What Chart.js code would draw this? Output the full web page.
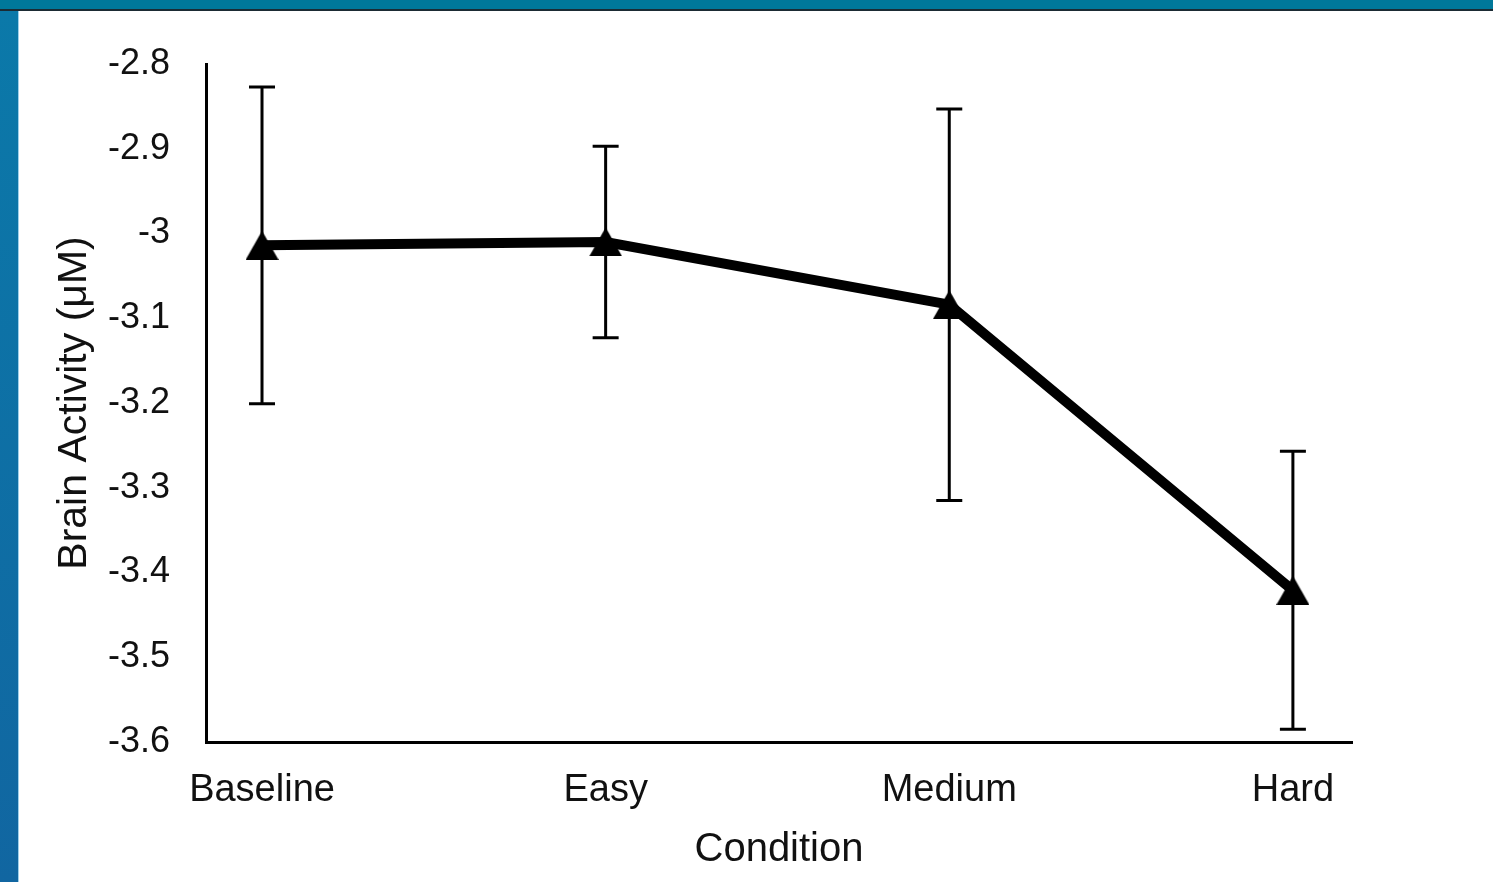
<!DOCTYPE html>
<html>
<head>
<meta charset="utf-8">
<script src="https://cdn.jsdelivr.net/npm/chart.js@4"></script>
<style>
  html, body { margin: 0; padding: 0; width: 1493px; height: 882px; overflow: hidden; background: #fff; }
  #topband { position: absolute; left: 0; top: 0; width: 1493px; height: 9px; background: #00789a; border-bottom: 2px solid #1b2b34; }
  #leftband { position: absolute; left: 0; top: 11px; width: 18px; height: 871px; background: linear-gradient(#0b79a9, #1166a1); border-right: 1px solid #9fd0ea; }
  #wrap { position: absolute; left: 19px; top: 11px; width: 1474px; height: 871px; background: #fff; }
</style>
</head>
<body>
<div id="topband"></div>
<div id="leftband"></div>
<div id="wrap"><canvas id="chart" width="1474" height="871"></canvas></div>
<script>
  // data
  const categories = ['Baseline', 'Easy', 'Medium', 'Hard'];
  const brainActivity = [-3.014, -3.010, -3.084, -3.421];
  const errors = [0.187, 0.113, 0.231, 0.164];
  const yTicks = [-3.6, -3.5, -3.4, -3.3, -3.2, -3.1, -3, -2.9, -2.8];

  const fontFamily = '"Liberation Sans", Arial, Helvetica, sans-serif';
  const textColor = '#111';

  // excel style triangle marker, centred on its box
  function triangleMarker(w, h) {
    let c = document.createElement('canvas');
    c.width = w;
    c.height = h;
    let ctx = c.getContext('2d');
    ctx.fillStyle = '#000';
    ctx.beginPath();
    ctx.moveTo(w / 2, 0);
    ctx.lineTo(w, h);
    ctx.lineTo(0, h);
    ctx.closePath();
    ctx.fill();
    return c;
  }

  const errorBars = {
    id: 'errorBars',
    beforeDatasetsDraw(chart) {
      let ctx = chart.ctx;
      let yScale = chart.scales.y;
      let meta = chart.getDatasetMeta(0);
      ctx.save();
      ctx.strokeStyle = '#000';
      ctx.lineWidth = 3;
      meta.data.forEach((pt, i) => {
        let top = yScale.getPixelForValue(brainActivity[i] + errors[i]);
        let bottom = yScale.getPixelForValue(brainActivity[i] - errors[i]);
        ctx.beginPath();
        ctx.moveTo(pt.x, top);
        ctx.lineTo(pt.x, bottom);
        ctx.moveTo(pt.x - 13, top);
        ctx.lineTo(pt.x + 13, top);
        ctx.moveTo(pt.x - 13, bottom);
        ctx.lineTo(pt.x + 13, bottom);
        ctx.stroke();
      });
      ctx.restore();
    }
  };

  let chLine = document.getElementById('chart');
  let lineChart = new Chart(chLine, {
    type: 'line',
    data: {
      datasets: [{
        data: brainActivity.map((v, i) => ({ x: i, y: v })),
        borderColor: '#000',
        borderWidth: 10,
        tension: 0,
        pointStyle: triangleMarker(33, 29),
        pointRadius: 16,
        clip: false
      }]
    },
    options: {
      responsive: false,
      devicePixelRatio: 1,
      animation: false,
      layout: { padding: { left: 0, top: 53, right: 141, bottom: 0 } },
      plugins: {
        legend: { display: false },
        tooltip: { enabled: false }
      },
      scales: {
        x: {
          type: 'linear',
          min: -0.163,
          max: 3.172,
          afterFit: (scale) => {
            scale.height = 140;
            scale.paddingLeft = 0;
            scale.paddingRight = 0;
          },
          afterBuildTicks: (scale) => { scale.ticks = categories.map((c, i) => ({ value: i })); },
          grid: { display: false, drawTicks: false },
          border: { color: '#000', width: 3 },
          ticks: {
            padding: 26,
            maxRotation: 0,
            autoSkip: false,
            color: textColor,
            font: { family: fontFamily, size: 38 },
            callback: (v) => categories[v]
          },
          title: {
            display: true,
            text: 'Condition',
            color: textColor,
            font: { family: fontFamily, size: 40 },
            padding: { top: 0, bottom: 8 }
          }
        },
        y: {
          min: -3.6,
          max: -2.8,
          afterFit: (scale) => {
            scale.width = 187;
            scale.paddingTop = 0;
            scale.paddingBottom = 0;
          },
          afterBuildTicks: (scale) => { scale.ticks = yTicks.map(v => ({ value: v })); },
          grid: { display: false, drawTicks: false },
          border: { color: '#000', width: 3 },
          ticks: {
            padding: 36,
            color: textColor,
            font: { family: fontFamily, size: 36 },
            callback: (v) => String(Number(v.toFixed(1)))
          },
          title: {
            display: true,
            text: 'Brain Activity (μM)',
            color: textColor,
            font: { family: fontFamily, size: 41 },
            padding: { top: 31, bottom: 0 }
          }
        }
      }
    },
    plugins: [errorBars]
  });
</script>
</body>
</html>
